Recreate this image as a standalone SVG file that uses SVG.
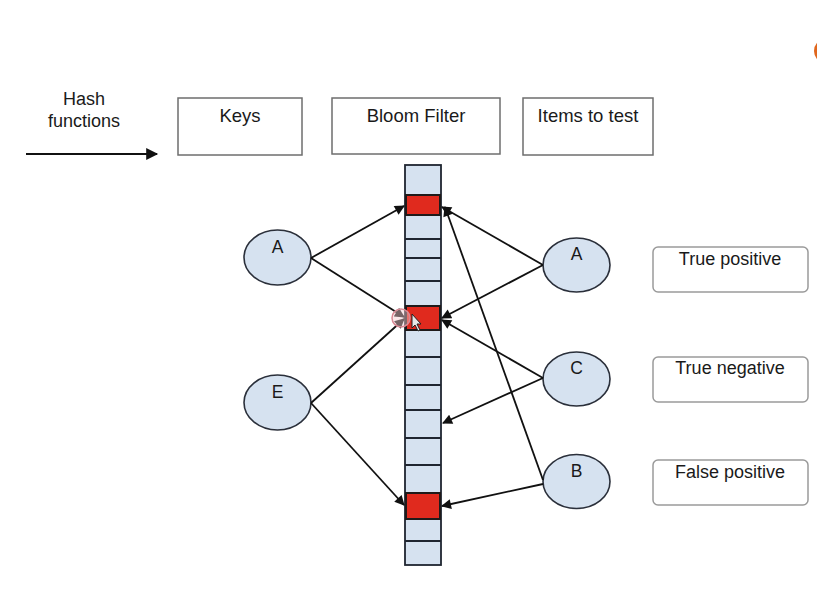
<svg xmlns="http://www.w3.org/2000/svg" width="817" height="595" viewBox="0 0 817 595">
  <style>
    text { font-family: "Liberation Sans", Arial, sans-serif; fill: #1a1a1a; text-anchor: middle; }
    .hdr { fill: #ffffff; stroke: #6e6e6e; stroke-width: 1.5; }
    .hdr-t { font-size: 18.5px; }
    .res { fill: #ffffff; stroke: #9a9a9a; stroke-width: 1.5; }
    .res-t { font-size: 18px; }
    .item { fill: #d6e2f0; stroke: #2a2f3a; stroke-width: 1.6; }
    .item-t { font-size: 17.5px; }
    .cell { fill: #d6e2f0; stroke: #1f2530; stroke-width: 1.8; }
    .set { fill: #e02a1e; stroke: #1f1a1a; stroke-width: 2; }
    .edge { stroke: #111111; stroke-width: 1.8; fill: none; marker-end: url(#head); }
  </style>
  <defs>
    <marker id="head" viewBox="0 0 10 10" refX="9" refY="5" markerWidth="11" markerHeight="10" markerUnits="userSpaceOnUse" orient="auto">
      <path d="M0,0 L10,5 L0,10 z" fill="#111111"/>
    </marker>
    <marker id="head2" viewBox="0 0 10 10" refX="9" refY="5" markerWidth="13" markerHeight="12" markerUnits="userSpaceOnUse" orient="auto">
      <path d="M0,0 L10,5 L0,10 z" fill="#111111"/>
    </marker>
  </defs>

  <rect width="817" height="595" fill="#ffffff"/>

  <!-- legend: hash function arrow -->
  <g id="legend">
    <text x="84" y="105" font-size="18">Hash</text>
    <text x="84" y="127" font-size="18">functions</text>
    <line x1="26" y1="154" x2="157" y2="154" stroke="#111" stroke-width="2" marker-end="url(#head2)"/>
  </g>

  <!-- column headers -->
  <g id="hdr-keys">
    <rect class="hdr" x="178" y="98" width="124" height="57"/>
    <text class="hdr-t" x="240" y="122">Keys</text>
  </g>
  <g id="hdr-filter">
    <rect class="hdr" x="332" y="98" width="168" height="56"/>
    <text class="hdr-t" x="416" y="122">Bloom Filter</text>
  </g>
  <g id="hdr-items">
    <rect class="hdr" x="523" y="98" width="130" height="57"/>
    <text class="hdr-t" x="588" y="122">Items to test</text>
  </g>

  <!-- bit array -->
  <g id="bloom-filter">
    <rect class="cell" x="405" y="165" width="36" height="400"/>
    <path d="M405,239 H441 M405,258 H441 M405,281 H441 M405,357 H441 M405,385 H441 M405,410 H441 M405,438 H441 M405,465 H441 M405,541 H441" stroke="#1f2530" stroke-width="1.8"/>
    <rect class="set" x="406" y="195" width="34" height="20"/>
    <rect class="set" x="406" y="306" width="34" height="24"/>
    <rect class="set" x="406" y="493" width="34" height="26"/>
  </g>

  <!-- keys -->
  <g id="key-a">
    <ellipse class="item" cx="277.5" cy="257.5" rx="33.5" ry="27.5"/>
    <text class="item-t" x="277.5" y="253">A</text>
  </g>
  <g id="key-e">
    <ellipse class="item" cx="277.5" cy="402.5" rx="33.5" ry="27.5"/>
    <text class="item-t" x="277.5" y="398">E</text>
  </g>

  <!-- items to test -->
  <g id="test-a">
    <ellipse class="item" cx="576.5" cy="265" rx="33.5" ry="27"/>
    <text class="item-t" x="576.5" y="260">A</text>
  </g>
  <g id="test-c">
    <ellipse class="item" cx="576.5" cy="379" rx="33.5" ry="27"/>
    <text class="item-t" x="576.5" y="374">C</text>
  </g>
  <g id="test-b">
    <ellipse class="item" cx="576.5" cy="481.5" rx="33.5" ry="27"/>
    <text class="item-t" x="576.5" y="477">B</text>
  </g>

  <!-- outcomes -->
  <g id="true-positive">
    <rect class="res" x="653" y="247" width="155" height="45" rx="5"/>
    <text class="res-t" x="730" y="265">True positive</text>
  </g>
  <g id="true-negative">
    <rect class="res" x="653" y="357" width="155" height="45" rx="5"/>
    <text class="res-t" x="730" y="374">True negative</text>
  </g>
  <g id="false-positive">
    <rect class="res" x="653" y="460" width="155" height="45" rx="5"/>
    <text class="res-t" x="730" y="478">False positive</text>
  </g>

  <!-- hash mappings -->
  <g id="connectors">
    <line class="edge" x1="311" y1="258" x2="404" y2="206"/>
    <line class="edge" x1="311" y1="258" x2="404" y2="317"/>
    <line class="edge" x1="311" y1="403" x2="404" y2="319"/>
    <line class="edge" x1="311" y1="403" x2="404" y2="505"/>
    <line class="edge" x1="543" y1="265" x2="442" y2="207"/>
    <line class="edge" x1="543" y1="265" x2="442" y2="318"/>
    <line class="edge" x1="543" y1="378" x2="442" y2="320"/>
    <line class="edge" x1="543" y1="378" x2="443" y2="423"/>
    <line class="edge" x1="543" y1="480" x2="445" y2="207"/>
    <line class="edge" x1="543" y1="484" x2="442" y2="506"/>
  </g>

  <!-- pointer highlight -->
  <g id="pointer">
    <circle cx="401" cy="318" r="9" fill="#f4c9cf" fill-opacity="0.45" stroke="#d98a95" stroke-width="1.5"/>
    <path d="M412,314 L412,328 L415,325 L418,331 L420,330 L417,324 L421,324 z" fill="#e8e8e8" stroke="#222" stroke-width="1"/>
  </g>

  <circle cx="827" cy="51" r="13" fill="#e0661c"/>
</svg>
